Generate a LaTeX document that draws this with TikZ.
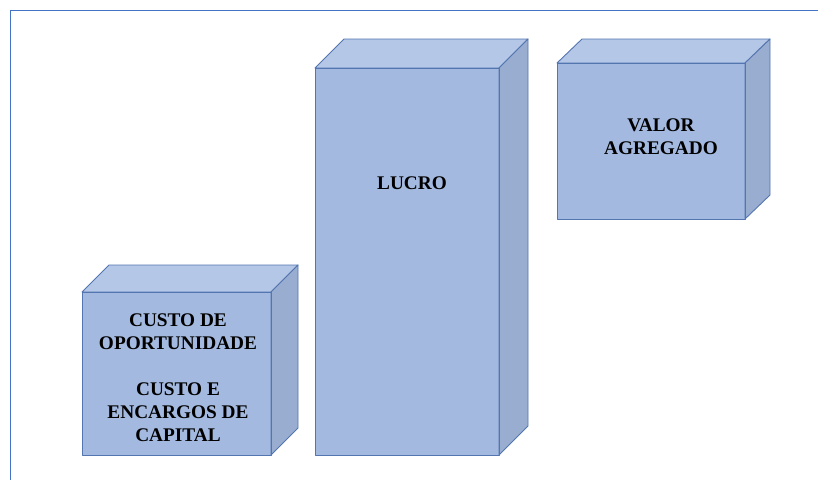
\documentclass[tikz,border=0pt]{standalone}
\usepackage{fontspec}
\setmainfont{Liberation Serif}
\definecolor{cfront}{HTML}{A3B9E0}
\definecolor{ctop}{HTML}{B4C7E7}
\definecolor{cside}{HTML}{99ADD0}
\definecolor{cedge}{HTML}{5476B0}
\definecolor{cframe}{HTML}{4472C4}
\tikzset{
  face/.style={draw=cedge, line width=0.9pt, line join=round},
  lbl/.style={font=\fontsize{19.3}{23}\selectfont\bfseries, align=center, text=black, inner sep=0pt},
}
% #1 left, #2 top, #3 right, #4 bottom of front face, #5 dx, #6 dy
\newcommand\mycube[6]{%
  \fill[cfront] (#1,#2) rectangle (#3,#4);
  \draw[face, fill=ctop] (#1,#2) -- ++(#5,-#6) -- ++(#3-#1,0) -- (#3,#2) -- cycle;
  \draw[face, fill=cside] (#3,#2) -- ++(#5,-#6) -- ++(0,#4-#2) -- (#3,#4) -- cycle;
  \draw[face] (#1,#2) rectangle (#3,#4);
}
\begin{document}
\begin{tikzpicture}[x=1pt,y=-1pt]
\useasboundingbox (0,0) rectangle (818,480);
\fill[white] (0,0) rectangle (818,480);
\draw[cframe, line width=1.1pt] (10.5,480) -- (10.5,10.5) -- (818,10.5);
\mycube{82}{292}{271}{455}{27}{27}
\mycube{315}{68}{499}{455}{29}{29}
\mycube{557}{63}{745}{219}{25}{24}
\node[lbl, anchor=base] (custo) at (178,441.7) {CUSTO DE\\OPORTUNIDADE\\[23pt]CUSTO E\\ENCARGOS DE\\CAPITAL};
\node[lbl, anchor=base] (lucro) at (412,189.3) {LUCRO};
\node[lbl, anchor=base] (valor) at (661,154.3) {VALOR\\AGREGADO};
\end{tikzpicture}
\end{document}
